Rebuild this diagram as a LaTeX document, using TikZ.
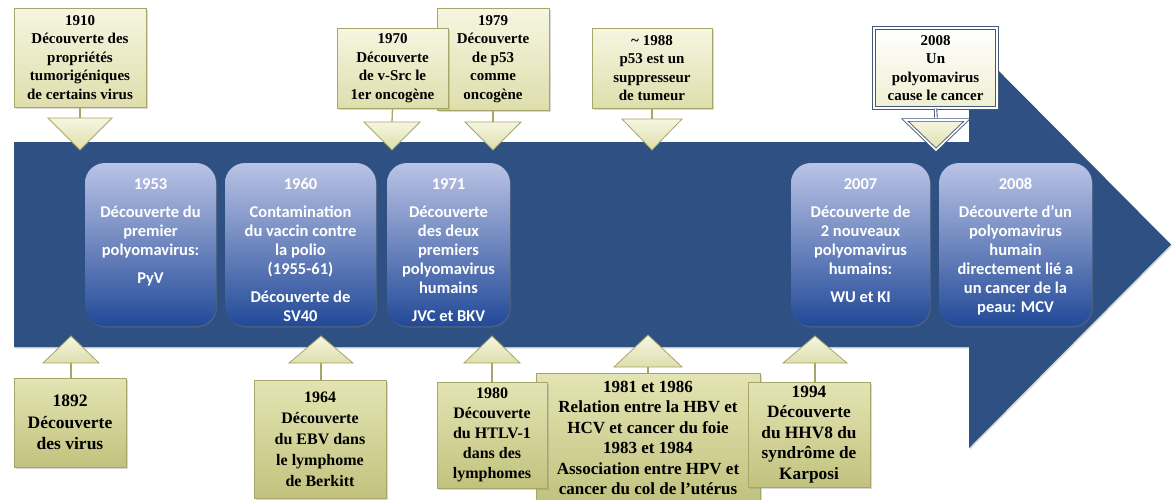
\documentclass[tikz,border=0pt]{standalone}
\usepackage{fontspec}
\setmainfont{Liberation Serif}
\newfontfamily\calib{Carlito}[BoldFont={Carlito Bold}]
\usetikzlibrary{shadows}
\definecolor{band}{RGB}{46,80,131}
\definecolor{bluetop}{RGB}{186,195,229}
\definecolor{bluebot}{RGB}{34,74,152}
\definecolor{creamtop}{RGB}{246,246,226}
\definecolor{creambot}{RGB}{222,222,172}
\definecolor{khakitop}{RGB}{228,228,180}
\definecolor{khakibot}{RGB}{194,194,126}
\definecolor{olive}{RGB}{166,166,104}
\definecolor{frameblue}{RGB}{68,88,120}

\begin{document}
\begin{tikzpicture}[x=1pt, y=-1pt, every node/.style={inner sep=0pt},
  note/.style={draw=olive, line width=0.8pt, top color=creamtop, bottom color=creambot,
    align=center, font=\bfseries\fontsize{15}{18.5}\selectfont,
    drop shadow={shadow xshift=1.5pt, shadow yshift=-1.5pt, opacity=0.3}},
  lownote/.style={note, top color=khakitop, bottom color=khakibot,
    font=\bfseries\fontsize{16}{21}\selectfont},
  keynote/.style={note, draw=frameblue, double=white, double distance=1.6pt, line width=0.9pt,
    top color=white, bottom color=creamtop!70!creambot},
  pointer/.style={draw=olive, line width=0.8pt, top color=creamtop, bottom color=creambot},
  keypointer/.style={pointer, draw=frameblue, double=white, double distance=1.6pt, line width=0.9pt},
  stem/.style={draw=olive, line width=1.3pt},
  yearbox/.style={rounded corners=20pt, top color=bluetop, bottom color=bluebot, text=white,
    font=\calib\bfseries\fontsize{16.5}{19}\selectfont, minimum height=163pt,
    drop shadow={shadow xshift=1pt, shadow yshift=-1.5pt, opacity=0.35}}]
  \useasboundingbox (0,0) rectangle (1172,499);

  % the time arrow
  \fill[band, drop shadow={shadow xshift=1pt, shadow yshift=-1.5pt, opacity=0.3}]
    (14,142) -- (969,142) -- (969,41) -- (1171,244.5) -- (969,448) -- (969,347) -- (14,347) -- cycle;

  % polyomavirus milestones
  \node[yearbox, minimum width=131pt] (y1953) at (150.5,244.5)
    {\parbox[c][160pt][t]{127pt}{\centering\vspace*{14pt}1953\\[9pt]Découverte du\\premier\\polyomavirus:\\[9pt]PyV}};
  \node[yearbox, minimum width=151pt] (y1960) at (300.5,244.5)
    {\parbox[c][160pt][t]{147pt}{\centering\vspace*{14pt}1960\\[9pt]Contamination\\du vaccin contre\\la polio\\(1955-61)\\[9pt]Découverte de\\SV40}};
  \node[yearbox, minimum width=123pt] (y1971) at (448.5,244.5)
    {\parbox[c][160pt][t]{121pt}{\centering\vspace*{14pt}1971\\[9pt]Découverte\\des deux\\premiers\\polyomavirus\\humains\\[9pt]JVC et BKV}};
  \node[yearbox, minimum width=139pt] (y2007) at (860.5,244.5)
    {\parbox[c][160pt][t]{135pt}{\centering\vspace*{14pt}2007\\[9pt]Découverte de\\2 nouveaux\\polyomavirus\\humains:\\[9pt]WU et KI}};
  \node[yearbox, minimum width=153pt] (y2008) at (1015.5,244.5)
    {\parbox[c][160pt][t]{149pt}{\centering\vspace*{14pt}2008\\[9pt]Découverte d’un\\polyomavirus\\humain\\directement lié a\\un cancer de la\\peau: MCV}};

  % pointers above the arrow
  \coordinate (t1910) at (80,150);   \coordinate (k1910) at (80,118);
  \coordinate (t1970) at (392,150);  \coordinate (k1970) at (392,122);
  \coordinate (t1979) at (493,150);  \coordinate (k1979) at (493,122);
  \coordinate (t1988) at (652,150);  \coordinate (k1988) at (652,119);
  \coordinate (t2008) at (936,150);  \coordinate (k2008) at (936,118);
  \draw[pointer] (t1910) -- ++(-32,-32) -- ++(64,0) -- cycle;
  \draw[pointer] (t1970) -- ++(-28,-28) -- ++(56,0) -- cycle;
  \draw[pointer] (t1979) -- ++(-28,-28) -- ++(56,0) -- cycle;
  \draw[pointer] (t1988) -- ++(-30,-31) -- ++(60,0) -- cycle;
  \draw[keypointer] (t2008) -- ++(-31,-30) -- ++(62,0) -- cycle;

  % pointers below the arrow
  \coordinate (t1892) at (71,336);   \coordinate (k1892) at (71,363);
  \coordinate (t1964) at (321,336);  \coordinate (k1964) at (321,363);
  \coordinate (t1980) at (492,336);  \coordinate (k1980) at (492,363);
  \coordinate (t1981) at (648,335);  \coordinate (k1981) at (648,367);
  \coordinate (t1994) at (815,336);  \coordinate (k1994) at (815,363);
  \draw[pointer] (t1892) -- ++(-28,27) -- ++(56,0) -- cycle;
  \draw[pointer] (t1964) -- ++(-32,27) -- ++(64,0) -- cycle;
  \draw[pointer] (t1980) -- ++(-28,27) -- ++(56,0) -- cycle;
  \draw[pointer] (t1981) -- ++(-34,32) -- ++(68,0) -- cycle;
  \draw[pointer] (t1994) -- ++(-32,27) -- ++(64,0) -- cycle;

  % notes above
  \node[note, minimum width=132pt, minimum height=99pt] (c1910) at (80,57.5)
    {1910\\Découverte des\\propriétés\\tumorigéniques\\de certains virus};
  \node[note, minimum width=112pt, minimum height=102pt] (c1979) at (493,59)
    {1979\\Découverte\\de p53\\comme\\oncogène};
  \node[note, minimum width=111pt, minimum height=80pt] (c1970) at (392.5,68)
    {1970\\Découverte\\de v-Src le\\1er oncogène};
  \node[note, minimum width=120pt, minimum height=80pt] (c1988) at (652,68)
    {\textasciitilde{} 1988\\p53 est un\\suppresseur\\de tumeur};
  \node[keynote, minimum width=123pt, minimum height=80pt] (c2008) at (935.5,68)
    {2008\\Un\\polyomavirus\\cause le cancer};

  \draw[stem] (c1910.south) -- (k1910);
  \draw[stem] (c1970.south) -- (k1970);
  \draw[stem] (c1979.south) -- (k1979);
  \draw[stem] (c1988.south) -- (k1988);
  \draw[draw=frameblue, double=white, double distance=1.6pt, line width=0.9pt] (c2008.south) -- (k2008);

  % notes below
  \node[lownote, minimum width=112pt, minimum height=89pt, font=\bfseries\fontsize{17.5}{21.5}\selectfont] (c1892) at (70,422.5)
    {1892\\Découverte\\des virus};
  \node[lownote, minimum width=132pt, minimum height=118pt] (c1964) at (320,439)
    {1964\\Découverte\\du EBV dans\\le lymphome\\de Berkitt};
  \node[lownote, minimum width=224pt, minimum height=130pt, font=\bfseries\fontsize{17}{20.5}\selectfont] (c1981) at (648,438)
    {1981 et 1986\\Relation entre la HBV et\\HCV et cancer du foie\\1983 et 1984\\Association entre HPV et\\cancer du col de l’utérus};
  \node[lownote, minimum width=110pt, minimum height=106pt, font=\bfseries\fontsize{16}{20}\selectfont] (c1980) at (492,435)
    {1980\\Découverte\\du HTLV-1\\dans des\\lymphomes};
  \node[lownote, minimum width=122pt, minimum height=105pt, font=\bfseries\fontsize{17.3}{20.5}\selectfont] (c1994) at (809,434.5)
    {1994\\Découverte\\du HHV8 du\\syndrôme de\\Karposi};

  \draw[stem] (k1892) -- (k1892 |- c1892.north);
  \draw[stem] (k1964) -- (k1964 |- c1964.north);
  \draw[stem] (k1980) -- (k1980 |- c1980.north);
  \draw[stem] (k1981) -- (k1981 |- c1981.north);
  \draw[stem] (k1994) -- (k1994 |- c1994.north);
\end{tikzpicture}
\end{document}
